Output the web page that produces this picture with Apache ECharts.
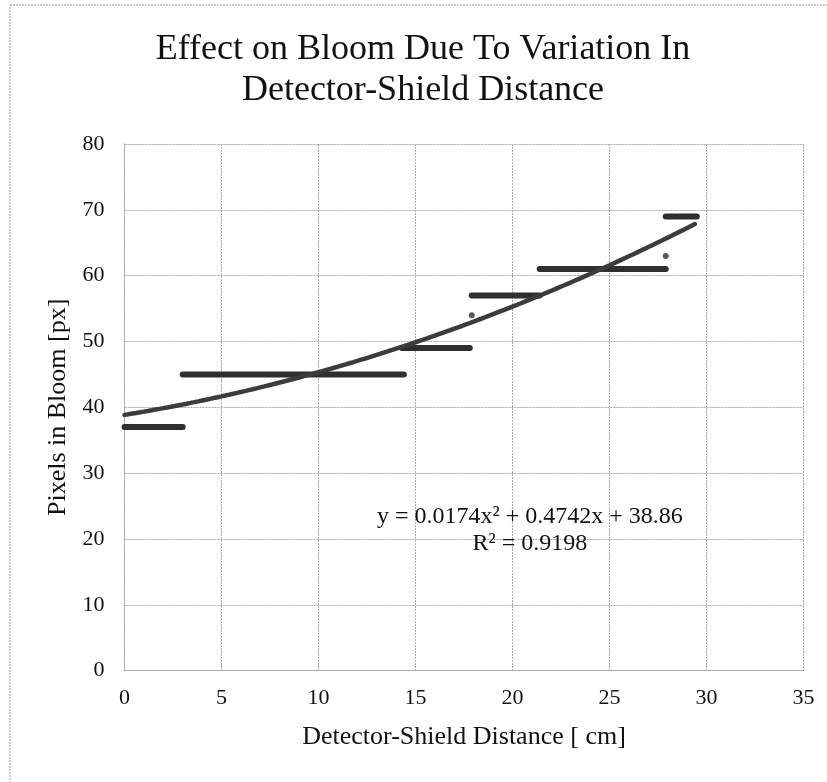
<!DOCTYPE html>
<html>
<head>
<meta charset="utf-8">
<script src="https://cdn.jsdelivr.net/npm/echarts@6/dist/echarts.min.js"></script>
<style>
  html, body { margin: 0; padding: 0; background: #fff; }
  #chart { width: 827px; height: 782px; }
</style>
</head>
<body>
<div id="chart"></div>
<script>
// Measured bloom plateaus: each run of equal readings spans [start, end] cm
const segStart = [0, 3.0, 14.3, 17.9, 21.4, 27.9];
const segEnd   = [3.0, 14.4, 17.8, 21.4, 27.9, 29.5];
const segValue = [37, 45, 49, 57, 61, 69];

// Isolated single readings
const pointX = [17.9, 27.9];
const pointY = [54, 63];

// Quadratic trendline coefficients (a, b, c) and its fitted range
const trendCoef = [0.0174, 0.4742, 38.86];
const trendRange = [0, 29.4];
const trendLabel = 'y = 0.0174x² + 0.4742x + 38.86\nR² = 0.9198';

const xTicks = [0, 5, 10, 15, 20, 25, 30, 35];
const yTicks = [0, 10, 20, 30, 40, 50, 60, 70, 80];

const FONT = '"Liberation Serif", "Times New Roman", serif';
const INK = '#2f2f2f';
const GRIDC = '#a8a8a8';

// sample the fitted polynomial along its range
const trendData = [];
for (let i = 0; i <= 147; i++) {
  const x = trendRange[0] + (trendRange[1] - trendRange[0]) * i / 147;
  trendData.push([x, trendCoef[0] * x * x + trendCoef[1] * x + trendCoef[2]]);
}

const segSeries = segValue.map((v, i) => ({
  type: 'line',
  data: [[segStart[i], v], [segEnd[i], v]],
  symbol: 'none',
  lineStyle: { color: INK, width: 6, cap: 'round' },
  z: 3,
  silent: true
}));

const chart = echarts.init(document.getElementById('chart'), null, { renderer: 'canvas' });
chart.setOption({
  animation: false,
  backgroundColor: '#fff',
  title: {
    text: 'Effect on Bloom Due To Variation In\nDetector-Shield Distance',
    left: 418,
    top: 24,
    textAlign: 'center',
    textStyle: {
      fontFamily: FONT, fontWeight: 'normal', fontSize: 36,
      color: '#111', lineHeight: 41
    }
  },
  graphic: [{
    type: 'rect',
    shape: { x: 10, y: 5, width: 840, height: 800 },
    style: { fill: 'none', stroke: '#9a9a9a', lineWidth: 1, lineDash: [2, 1] },
    silent: true, z: -1
  }],
  grid: { left: 124.5, top: 144, right: 23.5, bottom: 111.3, containLabel: false },
  xAxis: {
    type: 'value', min: 0, max: 35, interval: 5,
    name: 'Detector-Shield Distance [ cm]',
    nameLocation: 'middle', nameGap: 53,
    nameTextStyle: { fontFamily: FONT, fontSize: 26, color: '#111' },
    axisLine: { show: true, lineStyle: { color: GRIDC, width: 1, type: [2, 1] } },
    axisTick: { show: false },
    axisLabel: { fontFamily: FONT, fontSize: 22, color: '#111', margin: 17,
      formatter: v => xTicks.includes(v) ? String(v) : '' },
    splitLine: { show: true, lineStyle: { color: GRIDC, width: 1, type: [2, 1] } }
  },
  yAxis: {
    type: 'value', min: 0, max: 80, interval: 10,
    name: 'Pixels in Bloom [px]',
    nameLocation: 'middle', nameGap: 53,
    nameTextStyle: { fontFamily: FONT, fontSize: 26, color: '#111' },
    axisLine: { show: true, lineStyle: { color: GRIDC, width: 1, type: [2, 1] } },
    axisTick: { show: false },
    axisLabel: { fontFamily: FONT, fontSize: 22, color: '#111', margin: 20,
      formatter: v => yTicks.includes(v) ? String(v) : '' },
    splitLine: { show: true, lineStyle: { color: GRIDC, width: 1, type: [2, 1] } }
  },
  series: [
    ...segSeries,
    {
      type: 'scatter',
      data: pointX.map((x, i) => [x, pointY[i]]),
      symbol: 'circle', symbolSize: 6,
      itemStyle: { color: INK },
      z: 3, silent: true
    },
    {
      type: 'line',
      data: trendData,
      symbol: 'none',
      smooth: false,
      lineStyle: { color: '#3c3c3c', width: 4.5, cap: 'round' },
      z: 4, silent: true,
      markPoint: {
        symbol: 'rect', symbolSize: 0,
        data: [{ coord: [20.9, 21.4] }],
        label: {
          show: true, formatter: trendLabel,
          fontFamily: FONT, fontSize: 24, color: '#111',
          lineHeight: 27, align: 'center'
        }
      }
    }
  ]
});
</script>
</body>
</html>
